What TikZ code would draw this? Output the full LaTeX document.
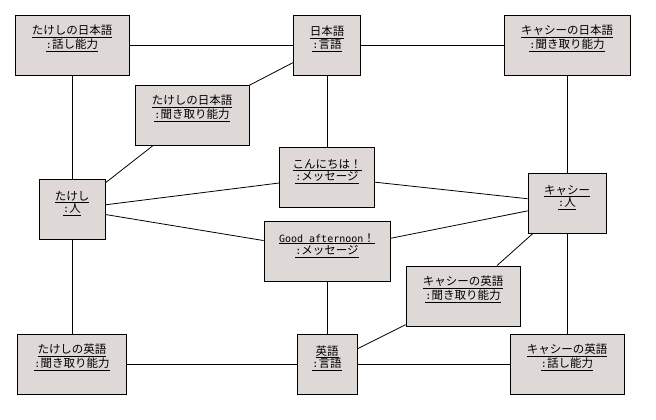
\documentclass[tikz,border=0pt]{standalone}
\usepackage{fontspec}
\usepackage{tikz}
\usetikzlibrary{positioning}
\newfontfamily\jpfont{Noto Sans CJK JP}
\newfontfamily\halffont{DejaVu Sans Mono}
\definecolor{objfill}{RGB}{222,217,215}
\newcommand{\half}[1]{{\halffont\fontsize{10}{12.5}\selectfont #1}}
\newcommand{\objname}[2]{\underline{#1}\\\underline{\half{:}#2}}

\begin{document}
\begin{tikzpicture}[
  x=1pt, y=-1pt,
  obj/.style={rectangle, draw, fill=objfill, line width=0.8pt, inner sep=0pt,
    text height=33.5pt, text depth=26.5pt, align=center,
    font=\jpfont\fontsize{11.5}{12.5}\selectfont},
  link/.style={draw, line width=0.8pt}
]
\useasboundingbox (0,0) rectangle (656,420);

% 日本語まわり
\node[obj, minimum width=114pt] (tjs) at (72,45) {\objname{たけしの日本語}{話し能力}};
\node[obj, minimum width=67pt] (ja) at (327,45) {\objname{日本語}{言語}};
\node[obj, minimum width=126pt] (cjl) at (567,45) {\objname{キャシーの日本語}{聞き取り能力}};
\node[obj, minimum width=114pt] (tjl) at (192,115) {\objname{たけしの日本語}{聞き取り能力}};

% 人とメッセージ
\node[obj, minimum width=66pt] (takeshi) at (72,209) {\objname{たけし}{人}};
\node[obj, minimum width=95pt] (hello) at (327,177) {\objname{こんにちは！}{メッセージ}};
\node[obj, minimum width=78pt] (cathy) at (567,203) {\objname{キャシー}{人}};
\node[obj, minimum width=126pt] (good) at (327,251) {\objname{\half{Good afternoon}！}{メッセージ}};

% 英語まわり
\node[obj, minimum width=114pt] (cel) at (463,296) {\objname{キャシーの英語}{聞き取り能力}};
\node[obj, minimum width=109pt] (tel) at (72,364) {\objname{たけしの英語}{聞き取り能力}};
\node[obj, minimum width=60pt] (en) at (327,364) {\objname{英語}{言語}};
\node[obj, minimum width=114pt] (ces) at (567,364) {\objname{キャシーの英語}{話し能力}};

% リンク
\draw[link] (tjs) -- (ja);
\draw[link] (ja) -- (cjl);
\draw[link] (ja) -- (tjl);
\draw[link] (tjl) -- (takeshi);
\draw[link] (tjs) -- (takeshi);
\draw[link] (ja) -- (hello);
\draw[link] (cjl) -- (cathy);
\draw[link] (takeshi) -- (hello);
\draw[link] (hello) -- (cathy);
\draw[link] (takeshi) -- (good);
\draw[link] (good) -- (cathy);
\draw[link] (good) -- (en);
\draw[link] (cathy) -- (cel);
\draw[link] (cel) -- (en);
\draw[link] (takeshi) -- (tel);
\draw[link] (tel) -- (en);
\draw[link] (en) -- (ces);
\draw[link] (cathy) -- (ces);

\end{tikzpicture}
\end{document}
